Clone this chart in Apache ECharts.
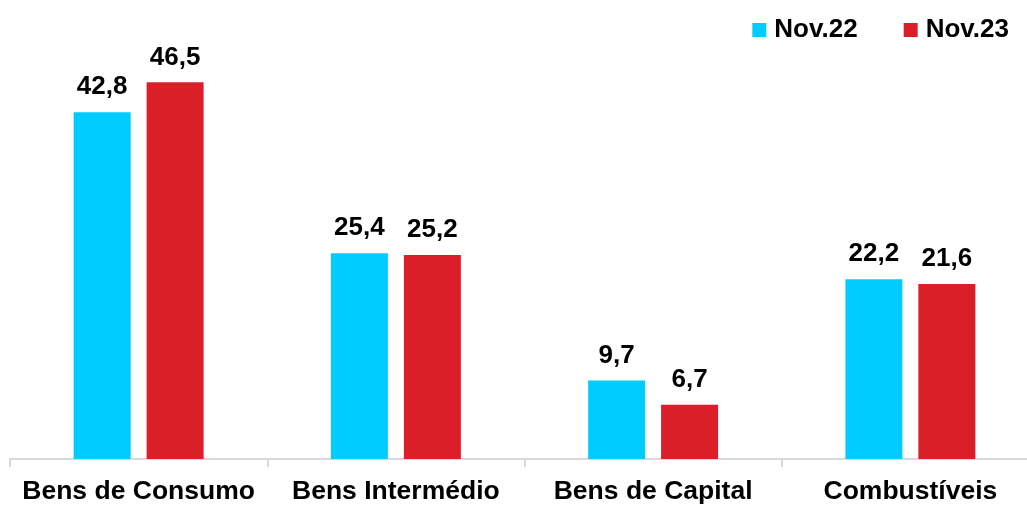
<!DOCTYPE html>
<html>
<head>
<meta charset="utf-8">
<script src="https://cdn.jsdelivr.net/npm/echarts@6/dist/echarts.min.js"></script>
<style>
  html, body { margin: 0; padding: 0; background: #fff; overflow: hidden; }
  body { width: 1027px; height: 505px; }
  /* the axis runs a bit past the right edge in the original, so the canvas is wider than the window */
  #chart { width: 1060px; height: 505px; }
</style>
</head>
<body>
<div id="chart"></div>
<script>
// categorias e valores (%)
var categories = ['Bens de Consumo', 'Bens Intermédio', 'Bens de Capital', 'Combustíveis'];
var seriesNames = ['Nov.22', 'Nov.23'];
var nov22 = [42.8, 25.4, 9.7, 22.2];
var nov23 = [46.5, 25.2, 6.7, 21.6];

var chart = echarts.init(document.getElementById('chart'));

function fmt(p) {
  return p.value.toFixed(1).replace('.', ',');
}

var labelStyle = {
  show: true,
  position: 'top',
  distance: 12,
  formatter: fmt,
  color: '#000',
  fontFamily: 'Liberation Sans, Arial',
  fontWeight: 'bold',
  fontSize: 26
};

var option = {
  animation: false,
  color: ['#00CCFF', '#DA1F29'],
  legend: {
    right: 46,
    top: 12,
    itemWidth: 14,
    itemHeight: 14,
    itemGap: 46,
    icon: 'rect',
    textStyle: {
      color: '#000',
      fontFamily: 'Liberation Sans, Arial',
      fontWeight: 'bold',
      fontSize: 26,
      padding: [0, 0, 0, 3]
    },
    data: seriesNames
  },
  grid: {
    left: 10,
    width: 1029,
    top: 54,
    bottom: 44,
    containLabel: false
  },
  xAxis: {
    type: 'category',
    data: categories,
    axisLine: { lineStyle: { color: '#d9d9d9', width: 2 } },
    axisTick: { show: true, length: 8, lineStyle: { color: '#d9d9d9', width: 2 } },
    axisLabel: {
      color: '#000',
      fontFamily: 'Liberation Sans, Arial',
      fontWeight: 'bold',
      fontSize: 26.5,
      margin: 19,
      interval: 0
    }
  },
  yAxis: {
    type: 'value',
    min: 0,
    max: 50,
    show: false,
    splitLine: { show: false }
  },
  series: [
    {
      name: seriesNames[0],
      type: 'bar',
      barWidth: 57,
      barGap: '28%',
      label: labelStyle,
      data: nov22
    },
    {
      name: seriesNames[1],
      type: 'bar',
      barWidth: 57,
      barGap: '28%',
      label: labelStyle,
      data: nov23
    }
  ]
};

chart.setOption(option);
</script>
</body>
</html>
